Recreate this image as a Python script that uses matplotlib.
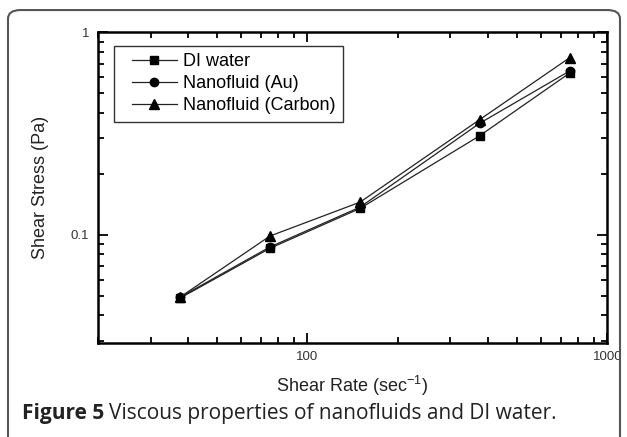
import matplotlib
matplotlib.use('Agg')
import matplotlib.pyplot as plt
from matplotlib.patches import FancyBboxPatch
from matplotlib.legend_handler import HandlerLine2D
from matplotlib.ticker import LogLocator, NullFormatter, FixedLocator, FixedFormatter

shear_rate = [37.5, 75, 150, 375, 750]
di_water = [0.0485, 0.0857, 0.135, 0.308, 0.63]
nano_au = [0.049, 0.087, 0.137, 0.355, 0.645]
nano_carbon = [0.049, 0.0985, 0.145, 0.37, 0.75]

series = [
    ('DI water', di_water, 's', 5.5),
    ('Nanofluid (Au)', nano_au, 'o', 6),
    ('Nanofluid (Carbon)', nano_carbon, '^', 6.5),
]

plt.rcParams['font.family'] = ['Liberation Sans', 'DejaVu Sans']

fig = plt.figure(figsize=(6.27, 4.37), dpi=100)
ax = fig.add_axes([0.1558, 0.2158, 0.8128, 0.7103])

lineas = []
for nombre, valores, marca, tam in series:
    l, = ax.plot(shear_rate, valores, color='#222222', lw=0.9, marker=marca,
                 markersize=tam, markerfacecolor='black', markeredgecolor='black',
                 label=nombre)
    lineas.append(l)

ax.set_xscale('log')
ax.set_yscale('log')
ax.set_xlim(20, 1000)
ax.set_ylim(0.0293, 1)

ax.xaxis.set_major_locator(FixedLocator([100, 1000]))
ax.xaxis.set_major_formatter(FixedFormatter(['100', '1000']))
ax.xaxis.set_minor_locator(LogLocator(base=10, subs=range(2, 10)))
ax.xaxis.set_minor_formatter(NullFormatter())
ax.yaxis.set_major_locator(FixedLocator([0.1, 1]))
ax.yaxis.set_major_formatter(FixedFormatter(['0.1', '1']))
ax.yaxis.set_minor_locator(LogLocator(base=10, subs=range(2, 10)))
ax.yaxis.set_minor_formatter(NullFormatter())

ax.tick_params(which='both', direction='in', top=True, right=True,
               labelsize=9.5, width=1.3, colors='black')
ax.tick_params(which='major', length=7, pad=6)
ax.tick_params(which='minor', length=4)
ax.tick_params(axis='both', labelcolor='#333333')
for s in ax.spines.values():
    s.set_linewidth(1.8)

ax.set_xlabel('Shear Rate (sec$^{\\mathregular{-1}}$)', fontsize=13, labelpad=8,
              color='#222222')
ax.set_ylabel('Shear Stress (Pa)', fontsize=13, labelpad=16, color='#222222')

hmap = {l: HandlerLine2D(xpad=0.55) for l in lineas}
leg = ax.legend(loc='upper left', bbox_to_anchor=(0.0326, 0.957), borderaxespad=0,
                fontsize=13, frameon=True, fancybox=False, edgecolor='black',
                handlelength=3.05, labelspacing=0.28, borderpad=0.42,
                handletextpad=0.35, handler_map=hmap)
leg.get_frame().set_linewidth(1.0)

# marco redondeado de la figura
marco = FancyBboxPatch((8 / 627, -0.1), 612 / 627, 1.077, boxstyle='round,pad=0,rounding_size=0.02',
                       transform=fig.transFigure, fill=False, edgecolor='#555555',
                       linewidth=1.5, clip_on=False)
fig.patches.append(marco)

t1 = fig.text(22 / 627, 1 - 414 / 437, 'Figure 5', fontsize=15, fontweight='bold',
              family=['Open Sans', 'DejaVu Sans'], va='center', color='#222222')
fig.canvas.draw()
bb = t1.get_window_extent()
fig.text(bb.x1 / fig.bbox.width + 5 / 627, 1 - 414 / 437,
         'Viscous properties of nanofluids and DI water.', fontsize=15,
         family=['Open Sans', 'DejaVu Sans'], va='center', color='#222222')

fig.savefig('out.png', dpi=100)
